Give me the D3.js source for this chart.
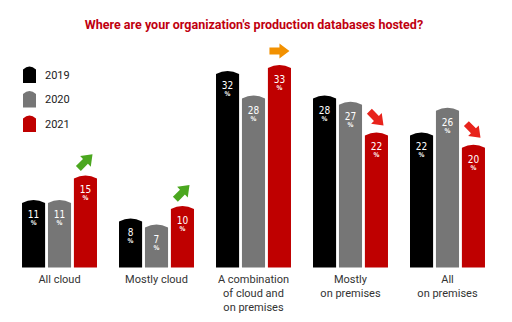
<!DOCTYPE html>
<html>
<head>
<meta charset="utf-8">
<script src="https://cdn.jsdelivr.net/npm/d3@7"></script>
<style>
  html, body { margin: 0; padding: 0; background: #fff; }
  svg { display: block; }
</style>
</head>
<body>
<svg id="chart" width="512" height="322"></svg>
<script>
// Survey data: share of respondents by hosting model and year
const categories = ["All cloud", "Mostly cloud", "A combination of cloud and on premises", "Mostly on premises", "All on premises"];
const categoryLines = [["All cloud"], ["Mostly cloud"], ["A combination", "of cloud and", "on premises"], ["Mostly", "on premises"], ["All", "on premises"]];
const years = ["2019", "2020", "2021"];
const values2019 = [11, 8, 32, 28, 22];
const values2020 = [11, 7, 28, 27, 26];
const values2021 = [15, 10, 33, 22, 20];
// trend of the latest year against the previous one
const trends = ["up", "up", "flat", "down", "down"];

const seriesByYear = { "2019": values2019, "2020": values2020, "2021": values2021 };
const colors = { "2019": "#000000", "2020": "#767676", "2021": "#bf0000" };
const trendColors = { up: "#4ba71f", flat: "#f29100", down: "#e8231c" };
const trendAngle = { up: -45, flat: 0, down: 45 };

const svg = d3.select("#chart");

const x0 = d3.scaleBand().domain(categories).range([0, 507]).paddingInner(0.227).paddingOuter(0.227);
const x1 = d3.scaleBand().domain(years).range([0, x0.bandwidth()]).paddingInner(0.11);
const y = d3.scaleLinear().domain([0, 35]).range([267.5, 267.5 - 35 * 6.14]);

// Title
svg.append("text")
  .attr("x", 254).attr("y", 29)
  .attr("text-anchor", "middle")
  .attr("font-family", "Roboto, sans-serif")
  .attr("font-weight", "bold")
  .attr("font-size", 12.5)
  .attr("fill", "#c0000f")
  .text("Where are your organization's production databases hosted?");

// Bar shape with a slightly domed top
function barPath(x, top, w, bottom) {
  const d = 3;
  return `M${x},${bottom} L${x},${top + d} Q${x + w / 2},${top - d} ${x + w},${top + d} L${x + w},${bottom} Z`;
}

const groups = svg.append("g").selectAll("g")
  .data(categories.map((c, i) => ({ c, i })))
  .join("g")
  .attr("transform", d => `translate(${x0(d.c)},0)`);

const bars = groups.selectAll("g.bar")
  .data(d => years.map(yr => ({ yr, v: seriesByYear[yr][d.i] })))
  .join("g").attr("class", "bar");

bars.append("path")
  .attr("d", d => barPath(x1(d.yr), y(d.v), x1.bandwidth(), y(0)))
  .attr("fill", d => colors[d.yr]);

bars.append("text")
  .attr("x", d => x1(d.yr) + x1.bandwidth() / 2)
  .attr("y", d => y(d.v) + 18)
  .attr("text-anchor", "middle")
  .attr("font-family", "'DejaVu Sans Condensed', 'DejaVu Sans', sans-serif")
  .attr("font-size", 10)
  .attr("fill", "#fff")
  .text(d => d.v);

bars.append("text")
  .attr("x", d => x1(d.yr) + x1.bandwidth() / 2)
  .attr("y", d => y(d.v) + 25)
  .attr("text-anchor", "middle")
  .attr("font-family", "'DejaVu Sans Condensed', 'DejaVu Sans', sans-serif")
  .attr("font-size", 6.5)
  .attr("font-weight", "bold")
  .attr("fill", "#fff")
  .text("%");

// Category labels
groups.append("text")
  .attr("text-anchor", "middle")
  .attr("font-family", "Roboto, sans-serif")
  .attr("font-size", 11)
  .attr("fill", "#333")
  .selectAll("tspan")
  .data(d => categoryLines[d.i])
  .join("tspan")
  .attr("x", x0.bandwidth() / 2)
  .attr("y", (d, j) => 283 + j * 14)
  .text(d => d);

// Trend arrows above the latest bar
const arrow = "M-10,-3.5 L0,-3.5 L0,-7.5 L10,0 L0,7.5 L0,3.5 L-10,3.5 Z";
groups.append("path")
  .attr("d", arrow)
  .attr("fill", d => trendColors[trends[d.i]])
  .attr("transform", d => {
    const cx = x1("2021") + x1.bandwidth() / 2;
    const cy = y(values2021[d.i]) - 14;
    return `translate(${cx},${cy}) rotate(${trendAngle[trends[d.i]]})`;
  });

// Legend
const legend = svg.append("g").selectAll("g")
  .data(years)
  .join("g")
  .attr("transform", (d, i) => `translate(23,${66 + i * 24.5})`);

legend.append("path")
  .attr("d", barPath(0, 0.5, 13, 17))
  .attr("fill", d => colors[d]);

legend.append("text")
  .attr("x", 22).attr("y", 12.5)
  .attr("font-family", "Roboto, sans-serif")
  .attr("font-size", 11)
  .attr("fill", "#222")
  .text(d => d);
</script>
</body>
</html>
